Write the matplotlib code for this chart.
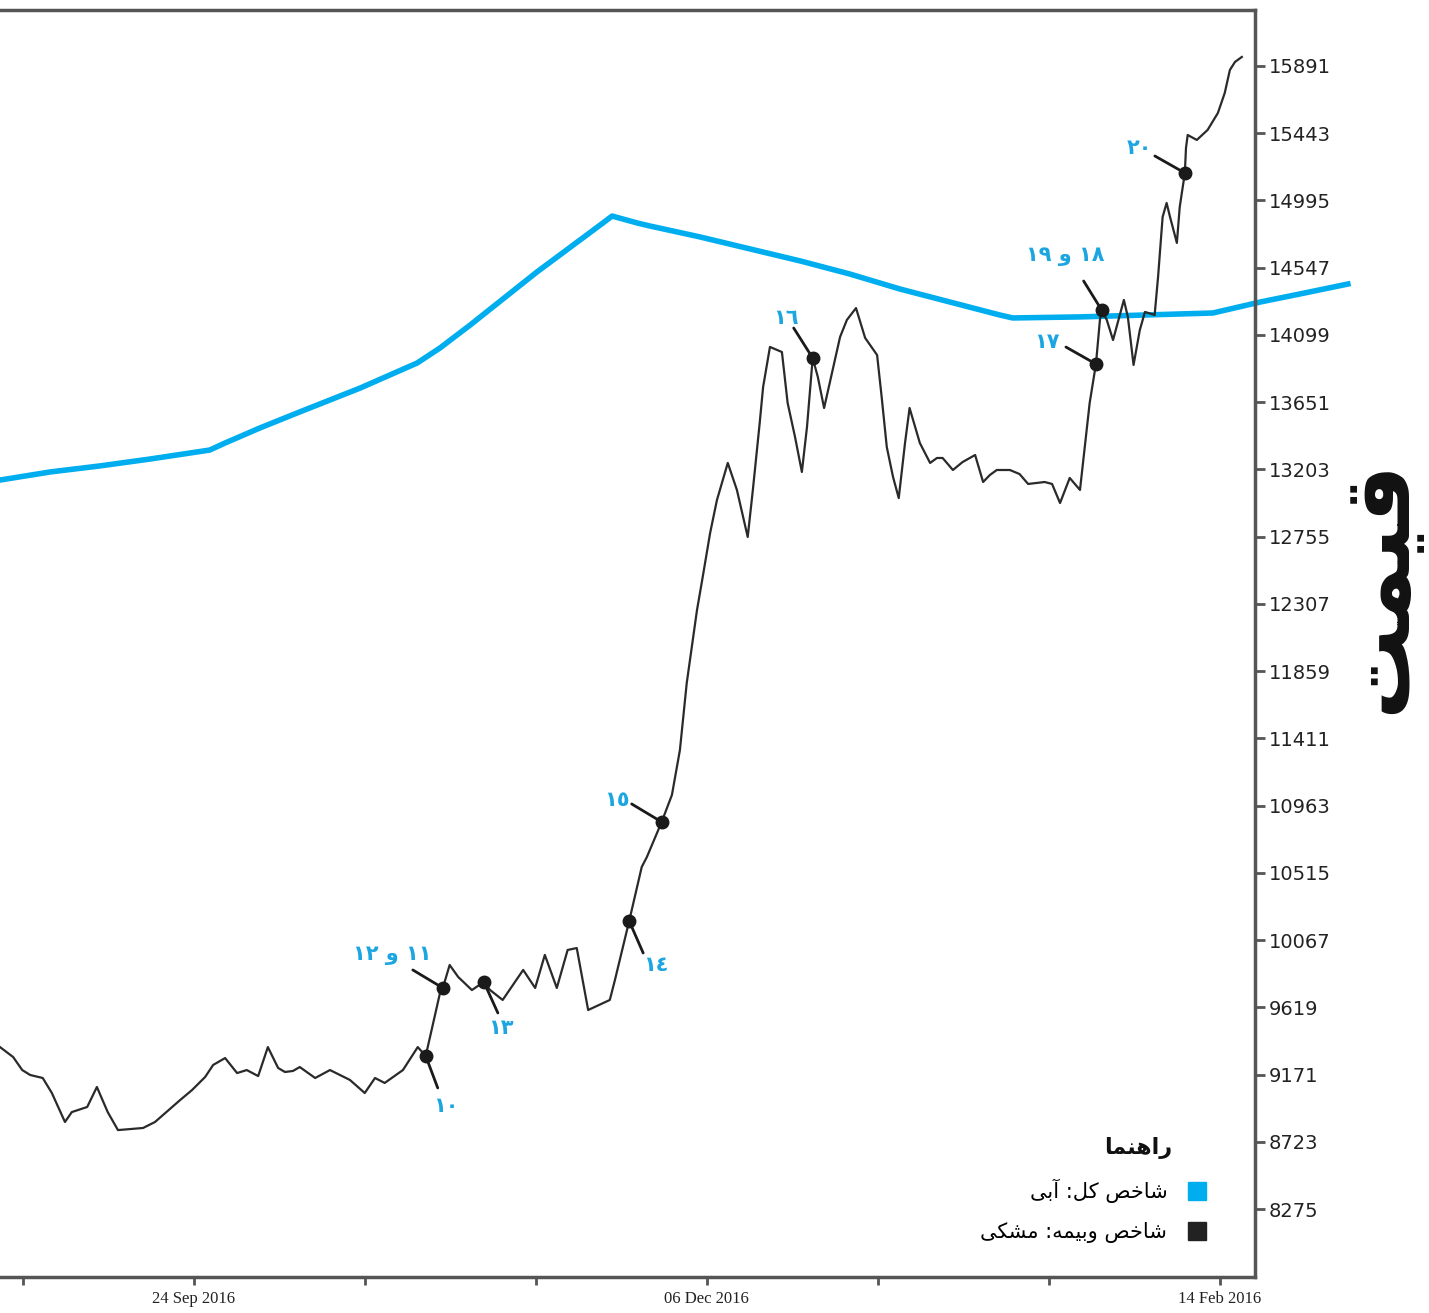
import matplotlib
matplotlib.use("Agg")
from matplotlib import pyplot as plt
from matplotlib.lines import Line2D

# black series (insurance index), x in bars
black_x = [0, 2.3, 3.9, 5.3, 7.5, 9.1, 11.4, 12.6, 15.3, 17.0, 18.9, 20.7, 25.1, 27.2, 31.6, 33.7,
           36.0, 37.4, 39.5, 41.6, 43.3, 45.3, 47.0, 48.8, 50.0, 51.4, 52.6, 55.3, 57.9, 61.4, 64.0,
           65.8, 67.5, 70.7, 73.3, 74.7, 77.2, 77.7, 78.9, 80.4, 82.8, 84.9, 86.0, 88.2, 91.8, 93.9,
           95.6, 97.7, 99.6, 101.2, 103.2, 107.0, 107.9, 110.4, 112.6, 113.5, 116.1, 117.9, 119.3,
           120.5, 122.3, 123.3, 124.6, 125.8, 127.7, 129.3, 131.2, 132.1, 133.3, 133.9, 135.1, 137.2,
           138.2, 139.5, 140.7, 141.6, 142.6, 143.5, 144.6, 146.1, 147.4, 148.6, 150.2, 151.8, 153.9,
           154.7, 155.6, 156.7, 157.7, 158.8, 159.6, 161.4, 163.2, 164.4, 165.4, 167.2, 168.9, 171.1,
           172.5, 173.7, 174.9, 177.2, 178.9, 180.4, 183.3, 184.6, 186.0, 187.7, 189.5, 191.2, 192.3,
           193.0, 193.3, 194.2, 195.3, 197.2, 197.9, 198.9, 200.0, 200.9, 202.6, 203.2, 204.0, 204.7,
           205.3, 206.5, 207.0, 207.9, 208.1, 208.4, 210.0, 211.9, 213.7, 214.9, 215.8, 216.7, 217.9]
black_y = [9354, 9288, 9201, 9168, 9148, 9048, 8855, 8921, 8955, 9088, 8921, 8801, 8815, 8855, 9001, 9068,
           9155, 9235, 9281, 9181, 9201, 9161, 9354, 9215, 9188, 9195, 9221, 9148, 9201, 9135, 9048,
           9148, 9115, 9201, 9354, 9295, 9714, 9748, 9901, 9821, 9734, 9788, 9734, 9668, 9868, 9748,
           9968, 9748, 10001, 10014, 9601, 9668, 9801, 10194, 10554, 10620, 10854, 11034, 11333,
           11780, 12266, 12486, 12779, 12999, 13246, 13066, 12753, 13066, 13512, 13752, 14019, 13985,
           13646, 13419, 13186, 13486, 13945, 13819, 13612, 13865, 14085, 14199, 14278, 14079, 13965,
           13686, 13352, 13152, 13012, 13379, 13612, 13379, 13246, 13279, 13279, 13199, 13252, 13299,
           13119, 13166, 13199, 13199, 13172, 13106, 13119, 13106, 12979, 13146, 13066, 13646, 13905,
           14199, 14265, 14199, 14065, 14332, 14219, 13899, 14132, 14252, 14232, 14485, 14885, 14978,
           14885, 14712, 14951, 15178, 15345, 15431, 15398, 15465, 15578, 15711, 15864, 15918, 15951]

# blue series (total index)
blue_x = [0, 8.8, 17.5, 26.3, 36.8, 39.5, 45.6, 52.6, 63.2, 73.2, 77.2, 82.5, 94.2, 105.8, 107.4,
          111.8, 114.0, 122.8, 131.6, 140.4, 149.1, 157.9, 166.7, 175.4, 177.7, 189.5, 212.8, 221.1,
          228.1, 236.5]
blue_y = [13132, 13186, 13226, 13272, 13332, 13379, 13479, 13586, 13745, 13912, 14012, 14165, 14518,
          14845, 14891, 14845, 14825, 14752, 14672, 14592, 14505, 14405, 14318, 14232, 14212, 14219,
          14245, 14318, 14372, 14438]

y_ticks = [15891, 15443, 14995, 14547, 14099, 13651, 13203, 12755, 12307, 11859, 11411, 10963,
           10515, 10067, 9619, 9171, 8723, 8275]
x_ticks = [4, 34, 64, 94, 124, 154, 184, 214]
x_labels = ["", "24 Sep 2016", "", "", "06 Dec 2016", "", "", "14 Feb 2016"]

# annotated points: label, x, y, line end offset (px), label offset (px)
notes = [
    ("١٠", 74.7, 9295, (12, -32), (20, -50)),
    ("١٢ و ١١", 77.7, 9748, (-30, 18), (-51, 33)),
    ("١٣", 84.9, 9788, (14, -31), (17, -46)),
    ("١٤", 110.4, 10194, (14, -32), (27, -44)),
    ("١٥", 116.1, 10854, (-30, 18), (-45, 22)),
    ("١٦", 142.6, 13945, (-19, 30), (-27, 40)),
    ("١٧", 192.3, 13905, (-30, 17), (-49, 22)),
    ("١٩ و ١٨", 193.3, 14265, (-18, 29), (-36, 54)),
    ("٢٠", 207.9, 15178, (-30, 17), (-45, 25)),
]

FORMS = {
    'ا': ('\uFE8D', '\uFE8E', None, None),
    'آ': ('\uFE81', '\uFE82', None, None),
    'ب': ('\uFE8F', '\uFE90', '\uFE91', '\uFE92'),
    'ت': ('\uFE95', '\uFE96', '\uFE97', '\uFE98'),
    'خ': ('\uFEA5', '\uFEA6', '\uFEA7', '\uFEA8'),
    'ر': ('\uFEAD', '\uFEAE', None, None),
    'ش': ('\uFEB5', '\uFEB6', '\uFEB7', '\uFEB8'),
    'ص': ('\uFEB9', '\uFEBA', '\uFEBB', '\uFEBC'),
    'ق': ('\uFED5', '\uFED6', '\uFED7', '\uFED8'),
    'ک': ('\uFB8E', '\uFB8F', '\uFB90', '\uFB91'),
    'ل': ('\uFEDD', '\uFEDE', '\uFEDF', '\uFEE0'),
    'م': ('\uFEE1', '\uFEE2', '\uFEE3', '\uFEE4'),
    'ن': ('\uFEE5', '\uFEE6', '\uFEE7', '\uFEE8'),
    'ه': ('\uFEE9', '\uFEEA', '\uFEEB', '\uFEEC'),
    'و': ('\uFEED', '\uFEEE', None, None),
    'ی': ('\uFBFC', '\uFBFD', '\uFBFE', '\uFBFF'),
}


def shape(text):
    # contextual forms + visual (reversed) order, since matplotlib has no bidi
    out = []
    for i, ch in enumerate(text):
        if ch not in FORMS:
            out.append(ch)
            continue
        prev = text[i - 1] if i > 0 else ''
        nxt = text[i + 1] if i + 1 < len(text) else ''
        join_prev = prev in FORMS and FORMS[prev][2] is not None
        join_next = nxt in FORMS and FORMS[ch][2] is not None
        isol, fin, ini, med = FORMS[ch]
        if join_prev and join_next:
            out.append(med)
        elif join_prev:
            out.append(fin)
        elif join_next:
            out.append(ini)
        else:
            out.append(isol)
    return ''.join(reversed(out))


BLUE = "#00AEEF"
LABEL_BLUE = "#1BA5E1"
SPINE = "#555555"

fig = plt.figure(figsize=(14.29, 13.13), dpi=100)
ax = fig.add_axes([0.0, 0.0274, 0.8782, 0.965])

ax.plot(blue_x, blue_y, color=BLUE, lw=4, clip_on=False, zorder=2)
ax.plot(black_x, black_y, color="#2a2a2a", lw=1.6, zorder=3)

for label, x, y, line_off, text_off in notes:
    ax.annotate("", xy=(x, y), xytext=line_off, textcoords="offset pixels",
                arrowprops=dict(arrowstyle="-", color="#1a1a1a", lw=2, shrinkA=0, shrinkB=0))
    ax.plot([x], [y], "o", color="#1a1a1a", ms=9, zorder=4)
    ax.annotate(label, xy=(x, y), xytext=text_off, textcoords="offset pixels",
                ha="center", va="center", color=LABEL_BLUE, fontsize=15, fontweight="bold")

ax.set_xlim(0, 220.2)
ax.set_ylim(7822, 16264)

ax.yaxis.tick_right()
ax.set_yticks(y_ticks)
ax.set_yticklabels([str(v) for v in y_ticks], fontsize=14, color="#222222")
ax.set_xticks(x_ticks)
ax.set_xticklabels(x_labels, fontsize=12, family="Liberation Serif", color="#222222")
ax.tick_params(axis="y", direction="out", length=7, width=2, color=SPINE, pad=3)
ax.tick_params(axis="x", direction="out", length=6, width=2, color=SPINE, pad=4)

ax.spines["left"].set_visible(False)
for side in ["top", "right", "bottom"]:
    ax.spines[side].set_color(SPINE)
    ax.spines[side].set_linewidth(2.5)

fig.text(1378 / 1429, 1 - 586 / 1313, shape("قیمت"), rotation=90, fontsize=66,
         fontweight="bold", ha="center", va="center", color="#111111")

handles = [
    Line2D([], [], marker="s", ls="none", color=BLUE, ms=13),
    Line2D([], [], marker="s", ls="none", color="#222222", ms=13),
]
leg = ax.legend(handles, [shape("شاخص کل: آبی"), shape("شاخص وبیمه: مشکی")],
                markerfirst=False, frameon=False, loc="lower right",
                bbox_to_anchor=(0.985, 0.012), fontsize=15, handletextpad=0.4,
                labelspacing=0.9)
ax.text(1172 / 1255, (1277 - 1148) / 1267, shape("راهنما"), transform=ax.transAxes,
        ha="right", va="center", fontsize=16, fontweight="bold", color="#111111")

fig.savefig("out.png", dpi=100)
